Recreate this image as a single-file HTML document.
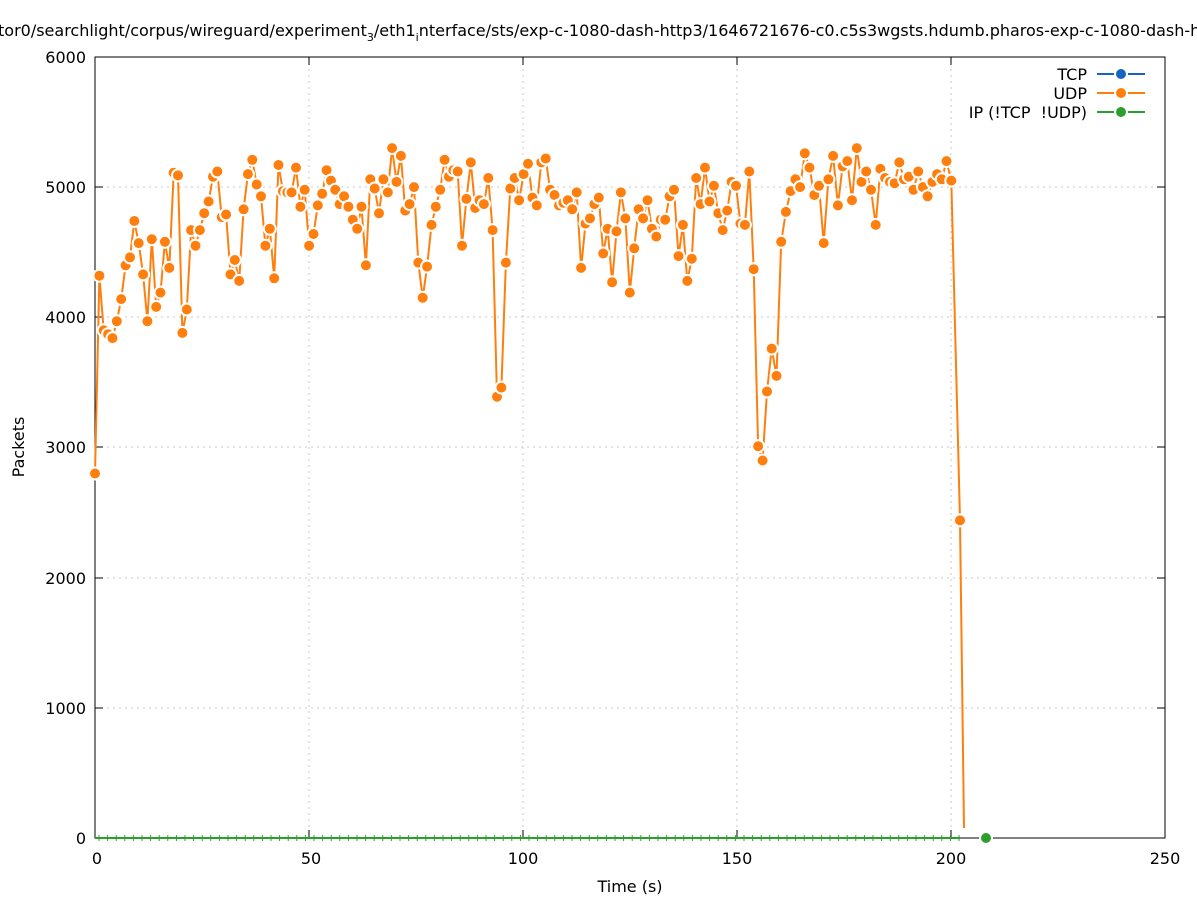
<!DOCTYPE html>
<html><head><meta charset="utf-8"><style>body{margin:0;background:#fff}svg{display:block;font-family:"DejaVu Sans","Liberation Sans",sans-serif}</style></head>
<body>
<svg id="s" width="1197" height="900" xmlns="http://www.w3.org/2000/svg">
<rect width="1197" height="900" fill="#fff"/>
<g stroke="#c8c8c8" stroke-dasharray="2,4" stroke-width="1">
<line x1="309" y1="57" x2="309" y2="838"/><line x1="523" y1="57" x2="523" y2="838"/><line x1="737" y1="57" x2="737" y2="838"/><line x1="951" y1="57" x2="951" y2="838"/>
<line x1="95" y1="708" x2="1165" y2="708"/><line x1="95" y1="578" x2="1165" y2="578"/><line x1="95" y1="447" x2="1165" y2="447"/><line x1="95" y1="317" x2="1165" y2="317"/><line x1="95" y1="187" x2="1165" y2="187"/>
</g>
<rect x="95" y="57" width="1070" height="781" fill="none" stroke="#000" stroke-width="1"/>
<g stroke="#000"><path d="M95 708h8M95 578h8M95 447h8M95 317h8M95 187h8M1165 708h-8M1165 578h-8M1165 447h-8M1165 317h-8M1165 187h-8M309 838v-8M523 838v-8M737 838v-8M951 838v-8M309 57v8M523 57v8M737 57v8M951 57v8"/></g>
<g font-size="16" text-anchor="end"><text x="86" y="844">0</text><text x="86" y="714">1000</text><text x="86" y="584">2000</text><text x="86" y="453">3000</text><text x="86" y="323">4000</text><text x="86" y="193">5000</text><text x="86" y="63">6000</text></g>
<g font-size="16" text-anchor="middle"><text x="97" y="864">0</text><text x="311" y="864">50</text><text x="523" y="864">100</text><text x="737" y="864">150</text><text x="951" y="864">200</text><text x="1165" y="864">250</text>
<text x="630" y="892">Time (s)</text><text transform="translate(24,447) rotate(-90)">Packets</text></g>
<text x="-2" y="36" font-size="16">tor0/searchlight/corpus/wireguard/experiment<tspan font-size="11" dy="5">3</tspan><tspan dy="-5">/eth1</tspan><tspan font-size="11" dy="5">i</tspan><tspan dy="-5">nterface/sts/exp-c-1080-dash-http3/1646721676-c0.c5s3wgsts.hdumb.pharos-exp-c-1080-dash-h</tspan></text>
<line x1="95" y1="838" x2="960" y2="838" stroke="#2ca02c" stroke-width="2"/>
<g id="tk" stroke="#2ca02c" stroke-width="1"></g>
<g id="data"></g>
<circle cx="986" cy="838" r="6" fill="#2ca02c" stroke="#fff" stroke-width="2"/>
<g font-size="16" text-anchor="end" style="white-space:pre"><text x="1087" y="80">TCP</text><text x="1087" y="99">UDP</text><text x="1087" y="118" xml:space="preserve">IP (!TCP  !UDP)</text></g>
<line x1="1097" y1="74" x2="1145" y2="74" stroke="#1565c0" stroke-width="2"/><circle cx="1121" cy="74" r="6" fill="#1565c0" stroke="#fff" stroke-width="2"/>
<line x1="1097" y1="93" x2="1145" y2="93" stroke="#ff7f0e" stroke-width="2"/><circle cx="1121" cy="93" r="6" fill="#ff7f0e" stroke="#fff" stroke-width="2"/>
<line x1="1097" y1="112" x2="1145" y2="112" stroke="#2ca02c" stroke-width="2"/><circle cx="1121" cy="112" r="6" fill="#2ca02c" stroke="#fff" stroke-width="2"/>
</svg>
<script>
var v=[2800,4320,3900,3870,3840,3970,4140,4400,4460,4740,4570,4330,3970,4600,4080,4190,4580,4380,5110,5090,3880,4060,4670,4550,4670,4800,4890,5080,5120,4770,4790,4330,4440,4280,4830,5100,5210,5020,4930,4550,4680,4300,5170,4970,4960,4960,5150,4850,4980,4550,4640,4860,4950,5130,5050,4980,4870,4930,4850,4750,4680,4850,4400,5060,4990,4800,5060,4960,5300,5040,5240,4820,4870,5000,4420,4150,4390,4710,4850,4980,5210,5080,5130,5120,4550,4910,5190,4840,4900,4870,5070,4670,3390,3460,4420,4990,5070,4900,5100,5180,4920,4860,5190,5220,4980,4940,4860,4880,4900,4830,4960,4380,4720,4760,4870,4920,4490,4680,4270,4660,4960,4760,4190,4530,4830,4760,4900,4680,4620,4750,4750,4930,4980,4470,4710,4280,4450,5070,4870,5150,4890,5010,4800,4670,4820,5040,5010,4720,4710,5120,4370,3010,2900,3430,3760,3550,4580,4810,4970,5060,5000,5260,5150,4940,5010,4570,5060,5240,4860,5160,5200,4900,5300,5040,5120,4980,4710,5140,5070,5040,5030,5190,5060,5080,4980,5120,5000,4930,5040,5100,5060,5200,5050];
var A=[[0,95],[92,497],[153,767],[193,956]];
function px(i){for(var k=0;k<A.length-1;k++){if(i<=A[k+1][0]){var a=A[k],b=A[k+1];return a[1]+(i-a[0])/(b[0]-a[0])*(b[1]-a[1]);}}return 956;}
var n=v.length,pts=[];
for(var i=0;i<n;i++){pts.push([px(i),838-v[i]*0.13017]);}
pts.push([960,838-2440*0.13017]);
var d="M"+pts.map(function(p){return p[0].toFixed(1)+" "+p[1].toFixed(1)}).join("L")+"L964 828";
var h='<path d="'+d+'" fill="none" stroke="#ff7f0e" stroke-width="2"/>';
pts.forEach(function(p){h+='<circle cx="'+p[0].toFixed(1)+'" cy="'+p[1].toFixed(1)+'" r="6" fill="#ff7f0e" stroke="#fff" stroke-width="2"/>';});
document.getElementById("data").innerHTML=h;
var t="";for(var x=99;x<960;x+=8.6){t+='<line x1="'+x.toFixed(1)+'" y1="835" x2="'+x.toFixed(1)+'" y2="841"/>';}
document.getElementById("tk").innerHTML=t;
</script>
</body></html>
